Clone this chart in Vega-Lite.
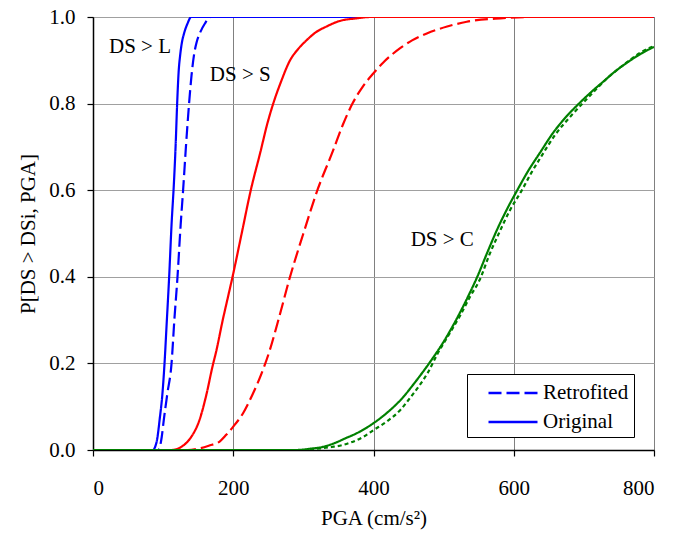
{
  "$schema": "https://vega.github.io/schema/vega-lite/v6.json",
  "width": 561,
  "height": 433,
  "autosize": {"type": "none"},
  "padding": {"left": 93, "top": 17, "right": 21, "bottom": 88},
  "background": "white",
  "config": {
    "view": {"stroke": "black", "strokeWidth": 1},
    "font": "Liberation Serif",
    "axis": {
      "labelFont": "Liberation Serif", "labelFontSize": 21, "labelColor": "black",
      "titleFont": "Liberation Serif", "titleFontSize": 21, "titleColor": "black", "titleFontWeight": "normal",
      "domainColor": "black", "domainWidth": 1.5, "tickColor": "black", "tickSize": 6, "tickWidth": 1.2
    }
  },
  "datasets": {
    "curves": [
      {"pga": 0, "p": 0, "state": "L", "version": "Original"},
      {"pga": 86, "p": 0, "state": "L", "version": "Original"},
      {"pga": 88, "p": 0.005, "state": "L", "version": "Original"},
      {"pga": 92, "p": 0.03, "state": "L", "version": "Original"},
      {"pga": 95, "p": 0.07, "state": "L", "version": "Original"},
      {"pga": 99, "p": 0.13, "state": "L", "version": "Original"},
      {"pga": 102, "p": 0.2, "state": "L", "version": "Original"},
      {"pga": 105, "p": 0.29, "state": "L", "version": "Original"},
      {"pga": 108.6, "p": 0.4, "state": "L", "version": "Original"},
      {"pga": 112, "p": 0.52, "state": "L", "version": "Original"},
      {"pga": 115.5, "p": 0.62, "state": "L", "version": "Original"},
      {"pga": 118, "p": 0.71, "state": "L", "version": "Original"},
      {"pga": 120, "p": 0.8, "state": "L", "version": "Original"},
      {"pga": 122, "p": 0.87, "state": "L", "version": "Original"},
      {"pga": 124.6, "p": 0.916, "state": "L", "version": "Original"},
      {"pga": 127, "p": 0.943, "state": "L", "version": "Original"},
      {"pga": 130, "p": 0.963, "state": "L", "version": "Original"},
      {"pga": 134.8, "p": 0.985, "state": "L", "version": "Original"},
      {"pga": 140, "p": 1.0, "state": "L", "version": "Original"},
      {"pga": 800, "p": 1.0, "state": "L", "version": "Original"},

      {"pga": 0, "p": 0, "state": "L", "version": "Retrofited"},
      {"pga": 93, "p": 0, "state": "L", "version": "Retrofited"},
      {"pga": 95, "p": 0.005, "state": "L", "version": "Retrofited"},
      {"pga": 98, "p": 0.03, "state": "L", "version": "Retrofited"},
      {"pga": 101, "p": 0.07, "state": "L", "version": "Retrofited"},
      {"pga": 106, "p": 0.13, "state": "L", "version": "Retrofited"},
      {"pga": 112, "p": 0.2, "state": "L", "version": "Retrofited"},
      {"pga": 116, "p": 0.3, "state": "L", "version": "Retrofited"},
      {"pga": 120.5, "p": 0.4, "state": "L", "version": "Retrofited"},
      {"pga": 125, "p": 0.52, "state": "L", "version": "Retrofited"},
      {"pga": 128.5, "p": 0.6, "state": "L", "version": "Retrofited"},
      {"pga": 132.5, "p": 0.7, "state": "L", "version": "Retrofited"},
      {"pga": 137, "p": 0.8, "state": "L", "version": "Retrofited"},
      {"pga": 140.5, "p": 0.865, "state": "L", "version": "Retrofited"},
      {"pga": 144, "p": 0.912, "state": "L", "version": "Retrofited"},
      {"pga": 148, "p": 0.943, "state": "L", "version": "Retrofited"},
      {"pga": 153, "p": 0.965, "state": "L", "version": "Retrofited"},
      {"pga": 159.6, "p": 0.985, "state": "L", "version": "Retrofited"},
      {"pga": 168, "p": 1.0, "state": "L", "version": "Retrofited"},
      {"pga": 800, "p": 1.0, "state": "L", "version": "Retrofited"},

      {"pga": 0, "p": 0, "state": "S", "version": "Original"},
      {"pga": 112, "p": 0, "state": "S", "version": "Original"},
      {"pga": 130, "p": 0.012, "state": "S", "version": "Original"},
      {"pga": 140, "p": 0.03, "state": "S", "version": "Original"},
      {"pga": 152, "p": 0.07, "state": "S", "version": "Original"},
      {"pga": 162, "p": 0.13, "state": "S", "version": "Original"},
      {"pga": 170, "p": 0.19, "state": "S", "version": "Original"},
      {"pga": 176, "p": 0.23, "state": "S", "version": "Original"},
      {"pga": 185, "p": 0.3, "state": "S", "version": "Original"},
      {"pga": 192, "p": 0.35, "state": "S", "version": "Original"},
      {"pga": 199, "p": 0.4, "state": "S", "version": "Original"},
      {"pga": 212, "p": 0.5, "state": "S", "version": "Original"},
      {"pga": 225, "p": 0.6, "state": "S", "version": "Original"},
      {"pga": 239, "p": 0.69, "state": "S", "version": "Original"},
      {"pga": 248, "p": 0.75, "state": "S", "version": "Original"},
      {"pga": 257, "p": 0.8, "state": "S", "version": "Original"},
      {"pga": 268, "p": 0.85, "state": "S", "version": "Original"},
      {"pga": 281, "p": 0.9, "state": "S", "version": "Original"},
      {"pga": 292, "p": 0.925, "state": "S", "version": "Original"},
      {"pga": 305, "p": 0.947, "state": "S", "version": "Original"},
      {"pga": 318, "p": 0.965, "state": "S", "version": "Original"},
      {"pga": 333, "p": 0.978, "state": "S", "version": "Original"},
      {"pga": 350, "p": 0.99, "state": "S", "version": "Original"},
      {"pga": 376, "p": 0.997, "state": "S", "version": "Original"},
      {"pga": 395, "p": 1.0, "state": "S", "version": "Original"},
      {"pga": 800, "p": 1.0, "state": "S", "version": "Original"},

      {"pga": 0, "p": 0, "state": "S", "version": "Retrofited"},
      {"pga": 135, "p": 0, "state": "S", "version": "Retrofited"},
      {"pga": 150, "p": 0.003, "state": "S", "version": "Retrofited"},
      {"pga": 165, "p": 0.01, "state": "S", "version": "Retrofited"},
      {"pga": 181, "p": 0.02, "state": "S", "version": "Retrofited"},
      {"pga": 190, "p": 0.035, "state": "S", "version": "Retrofited"},
      {"pga": 200, "p": 0.054, "state": "S", "version": "Retrofited"},
      {"pga": 214, "p": 0.085, "state": "S", "version": "Retrofited"},
      {"pga": 228, "p": 0.13, "state": "S", "version": "Retrofited"},
      {"pga": 240, "p": 0.175, "state": "S", "version": "Retrofited"},
      {"pga": 252, "p": 0.23, "state": "S", "version": "Retrofited"},
      {"pga": 266, "p": 0.31, "state": "S", "version": "Retrofited"},
      {"pga": 281, "p": 0.4, "state": "S", "version": "Retrofited"},
      {"pga": 300, "p": 0.5, "state": "S", "version": "Retrofited"},
      {"pga": 320, "p": 0.6, "state": "S", "version": "Retrofited"},
      {"pga": 342, "p": 0.69, "state": "S", "version": "Retrofited"},
      {"pga": 356, "p": 0.75, "state": "S", "version": "Retrofited"},
      {"pga": 370, "p": 0.8, "state": "S", "version": "Retrofited"},
      {"pga": 385, "p": 0.84, "state": "S", "version": "Retrofited"},
      {"pga": 400, "p": 0.87, "state": "S", "version": "Retrofited"},
      {"pga": 414, "p": 0.895, "state": "S", "version": "Retrofited"},
      {"pga": 438, "p": 0.928, "state": "S", "version": "Retrofited"},
      {"pga": 455, "p": 0.946, "state": "S", "version": "Retrofited"},
      {"pga": 476, "p": 0.962, "state": "S", "version": "Retrofited"},
      {"pga": 505, "p": 0.978, "state": "S", "version": "Retrofited"},
      {"pga": 533, "p": 0.989, "state": "S", "version": "Retrofited"},
      {"pga": 581, "p": 0.997, "state": "S", "version": "Retrofited"},
      {"pga": 620, "p": 1.0, "state": "S", "version": "Retrofited"},
      {"pga": 800, "p": 1.0, "state": "S", "version": "Retrofited"},

      {"pga": 0, "p": 0, "state": "C", "version": "Original"},
      {"pga": 290, "p": 0, "state": "C", "version": "Original"},
      {"pga": 310, "p": 0.003, "state": "C", "version": "Original"},
      {"pga": 330, "p": 0.008, "state": "C", "version": "Original"},
      {"pga": 343, "p": 0.015, "state": "C", "version": "Original"},
      {"pga": 360, "p": 0.027, "state": "C", "version": "Original"},
      {"pga": 380, "p": 0.042, "state": "C", "version": "Original"},
      {"pga": 400, "p": 0.062, "state": "C", "version": "Original"},
      {"pga": 420, "p": 0.087, "state": "C", "version": "Original"},
      {"pga": 440, "p": 0.118, "state": "C", "version": "Original"},
      {"pga": 460, "p": 0.158, "state": "C", "version": "Original"},
      {"pga": 481, "p": 0.204, "state": "C", "version": "Original"},
      {"pga": 500, "p": 0.25, "state": "C", "version": "Original"},
      {"pga": 519, "p": 0.304, "state": "C", "version": "Original"},
      {"pga": 535, "p": 0.355, "state": "C", "version": "Original"},
      {"pga": 548, "p": 0.4, "state": "C", "version": "Original"},
      {"pga": 562, "p": 0.455, "state": "C", "version": "Original"},
      {"pga": 576, "p": 0.508, "state": "C", "version": "Original"},
      {"pga": 590, "p": 0.555, "state": "C", "version": "Original"},
      {"pga": 605, "p": 0.6, "state": "C", "version": "Original"},
      {"pga": 620, "p": 0.643, "state": "C", "version": "Original"},
      {"pga": 638, "p": 0.688, "state": "C", "version": "Original"},
      {"pga": 655, "p": 0.73, "state": "C", "version": "Original"},
      {"pga": 675, "p": 0.77, "state": "C", "version": "Original"},
      {"pga": 693, "p": 0.8, "state": "C", "version": "Original"},
      {"pga": 710, "p": 0.826, "state": "C", "version": "Original"},
      {"pga": 728.5, "p": 0.852, "state": "C", "version": "Original"},
      {"pga": 745, "p": 0.875, "state": "C", "version": "Original"},
      {"pga": 762, "p": 0.895, "state": "C", "version": "Original"},
      {"pga": 780, "p": 0.914, "state": "C", "version": "Original"},
      {"pga": 800, "p": 0.931, "state": "C", "version": "Original"},

      {"pga": 0, "p": 0, "state": "C", "version": "Retrofited"},
      {"pga": 300, "p": 0, "state": "C", "version": "Retrofited"},
      {"pga": 320, "p": 0.003, "state": "C", "version": "Retrofited"},
      {"pga": 340, "p": 0.007, "state": "C", "version": "Retrofited"},
      {"pga": 355, "p": 0.011, "state": "C", "version": "Retrofited"},
      {"pga": 367, "p": 0.017, "state": "C", "version": "Retrofited"},
      {"pga": 385, "p": 0.03, "state": "C", "version": "Retrofited"},
      {"pga": 400, "p": 0.046, "state": "C", "version": "Retrofited"},
      {"pga": 420, "p": 0.067, "state": "C", "version": "Retrofited"},
      {"pga": 438, "p": 0.092, "state": "C", "version": "Retrofited"},
      {"pga": 452, "p": 0.12, "state": "C", "version": "Retrofited"},
      {"pga": 465, "p": 0.148, "state": "C", "version": "Retrofited"},
      {"pga": 478, "p": 0.18, "state": "C", "version": "Retrofited"},
      {"pga": 490.5, "p": 0.22, "state": "C", "version": "Retrofited"},
      {"pga": 507, "p": 0.265, "state": "C", "version": "Retrofited"},
      {"pga": 524, "p": 0.312, "state": "C", "version": "Retrofited"},
      {"pga": 538, "p": 0.355, "state": "C", "version": "Retrofited"},
      {"pga": 552, "p": 0.395, "state": "C", "version": "Retrofited"},
      {"pga": 565, "p": 0.45, "state": "C", "version": "Retrofited"},
      {"pga": 578.7, "p": 0.5, "state": "C", "version": "Retrofited"},
      {"pga": 595, "p": 0.555, "state": "C", "version": "Retrofited"},
      {"pga": 611.6, "p": 0.6, "state": "C", "version": "Retrofited"},
      {"pga": 625, "p": 0.64, "state": "C", "version": "Retrofited"},
      {"pga": 640, "p": 0.68, "state": "C", "version": "Retrofited"},
      {"pga": 660, "p": 0.73, "state": "C", "version": "Retrofited"},
      {"pga": 683, "p": 0.774, "state": "C", "version": "Retrofited"},
      {"pga": 705, "p": 0.812, "state": "C", "version": "Retrofited"},
      {"pga": 733, "p": 0.858, "state": "C", "version": "Retrofited"},
      {"pga": 757, "p": 0.89, "state": "C", "version": "Retrofited"},
      {"pga": 781, "p": 0.918, "state": "C", "version": "Retrofited"},
      {"pga": 800, "p": 0.933, "state": "C", "version": "Retrofited"}
    ],
    "labels": [
      {"pga": 67, "p": 0.93, "text": "DS > L"},
      {"pga": 210, "p": 0.866, "text": "DS > S"},
      {"pga": 498, "p": 0.485, "text": "DS > C"}
    ]
  },
  "layer": [
    {
      "data": {"name": "curves"},
      "transform": [{"filter": "datum.state !== 'C'"}],
      "mark": {"type": "line", "strokeWidth": 2.2, "clip": true, "interpolate": "monotone"},
      "encoding": {
        "x": {
          "field": "pga", "type": "quantitative",
          "scale": {"domain": [0, 800], "nice": false},
          "axis": {
            "title": "PGA (cm/s²)", "values": [0, 200, 400, 600, 800],
            "grid": true, "gridColor": "#808080", "gridWidth": 1,
            "labelPadding": 21, "titlePadding": 9
          }
        },
        "y": {
          "field": "p", "type": "quantitative",
          "scale": {"domain": [0, 1], "nice": false},
          "axis": {
            "title": "P[DS > DSi, PGA]", "values": [0, 0.2, 0.4, 0.6, 0.8, 1.0], "format": ".1f",
            "grid": true, "gridColor": "#a0a0a0", "gridWidth": 1,
            "labelPadding": 12, "titlePadding": 10
          }
        },
        "color": {
          "field": "state", "type": "nominal",
          "scale": {"domain": ["L", "S", "C"], "range": ["#0000FF", "#FF0000", "#008000"]},
          "legend": null
        },
        "strokeDash": {
          "field": "version", "type": "nominal",
          "scale": {"domain": ["Retrofited", "Original"], "range": [[13, 5], [1, 0]]},
          "legend": {
            "title": null, "orient": "none", "legendX": 374, "legendY": 357,
            "fillColor": "white", "strokeColor": "black", "padding": 5,
            "symbolType": "M-1.96,0L1.96,0", "symbolStrokeColor": "#0000FF", "symbolStrokeWidth": 2.5,
            "symbolSize": 625, "symbolOffset": 27, "labelOffset": 16,
            "labelFont": "Liberation Serif", "labelFontSize": 21, "labelColor": "black",
            "labelExpr": "datum.label + '\u00a0\u00a0\u00a0\u00a0\u00a0\u00a0\u00a0'",
            "rowPadding": 5
          }
        },
        "detail": {"field": "state"}
      }
    },
    {
      "data": {"name": "curves"},
      "transform": [{"filter": "datum.state === 'C'"}],
      "mark": {"type": "line", "strokeWidth": 2.2, "clip": true, "interpolate": "monotone"},
      "encoding": {
        "x": {"field": "pga", "type": "quantitative"},
        "y": {"field": "p", "type": "quantitative"},
        "color": {"field": "state", "type": "nominal", "legend": null},
        "strokeDash": {
          "field": "version", "type": "nominal",
          "scale": {"domain": ["Retrofited", "Original"], "range": [[4, 3], [1, 0]]},
          "legend": null
        }
      }
    },
    {
      "data": {"name": "labels"},
      "mark": {"type": "text", "font": "Liberation Serif", "fontSize": 21, "color": "black", "align": "center", "baseline": "middle"},
      "encoding": {
        "x": {"field": "pga", "type": "quantitative"},
        "y": {"field": "p", "type": "quantitative"},
        "text": {"field": "text"}
      }
    }
  ],
  "resolve": {"scale": {"strokeDash": "independent"}}
}
